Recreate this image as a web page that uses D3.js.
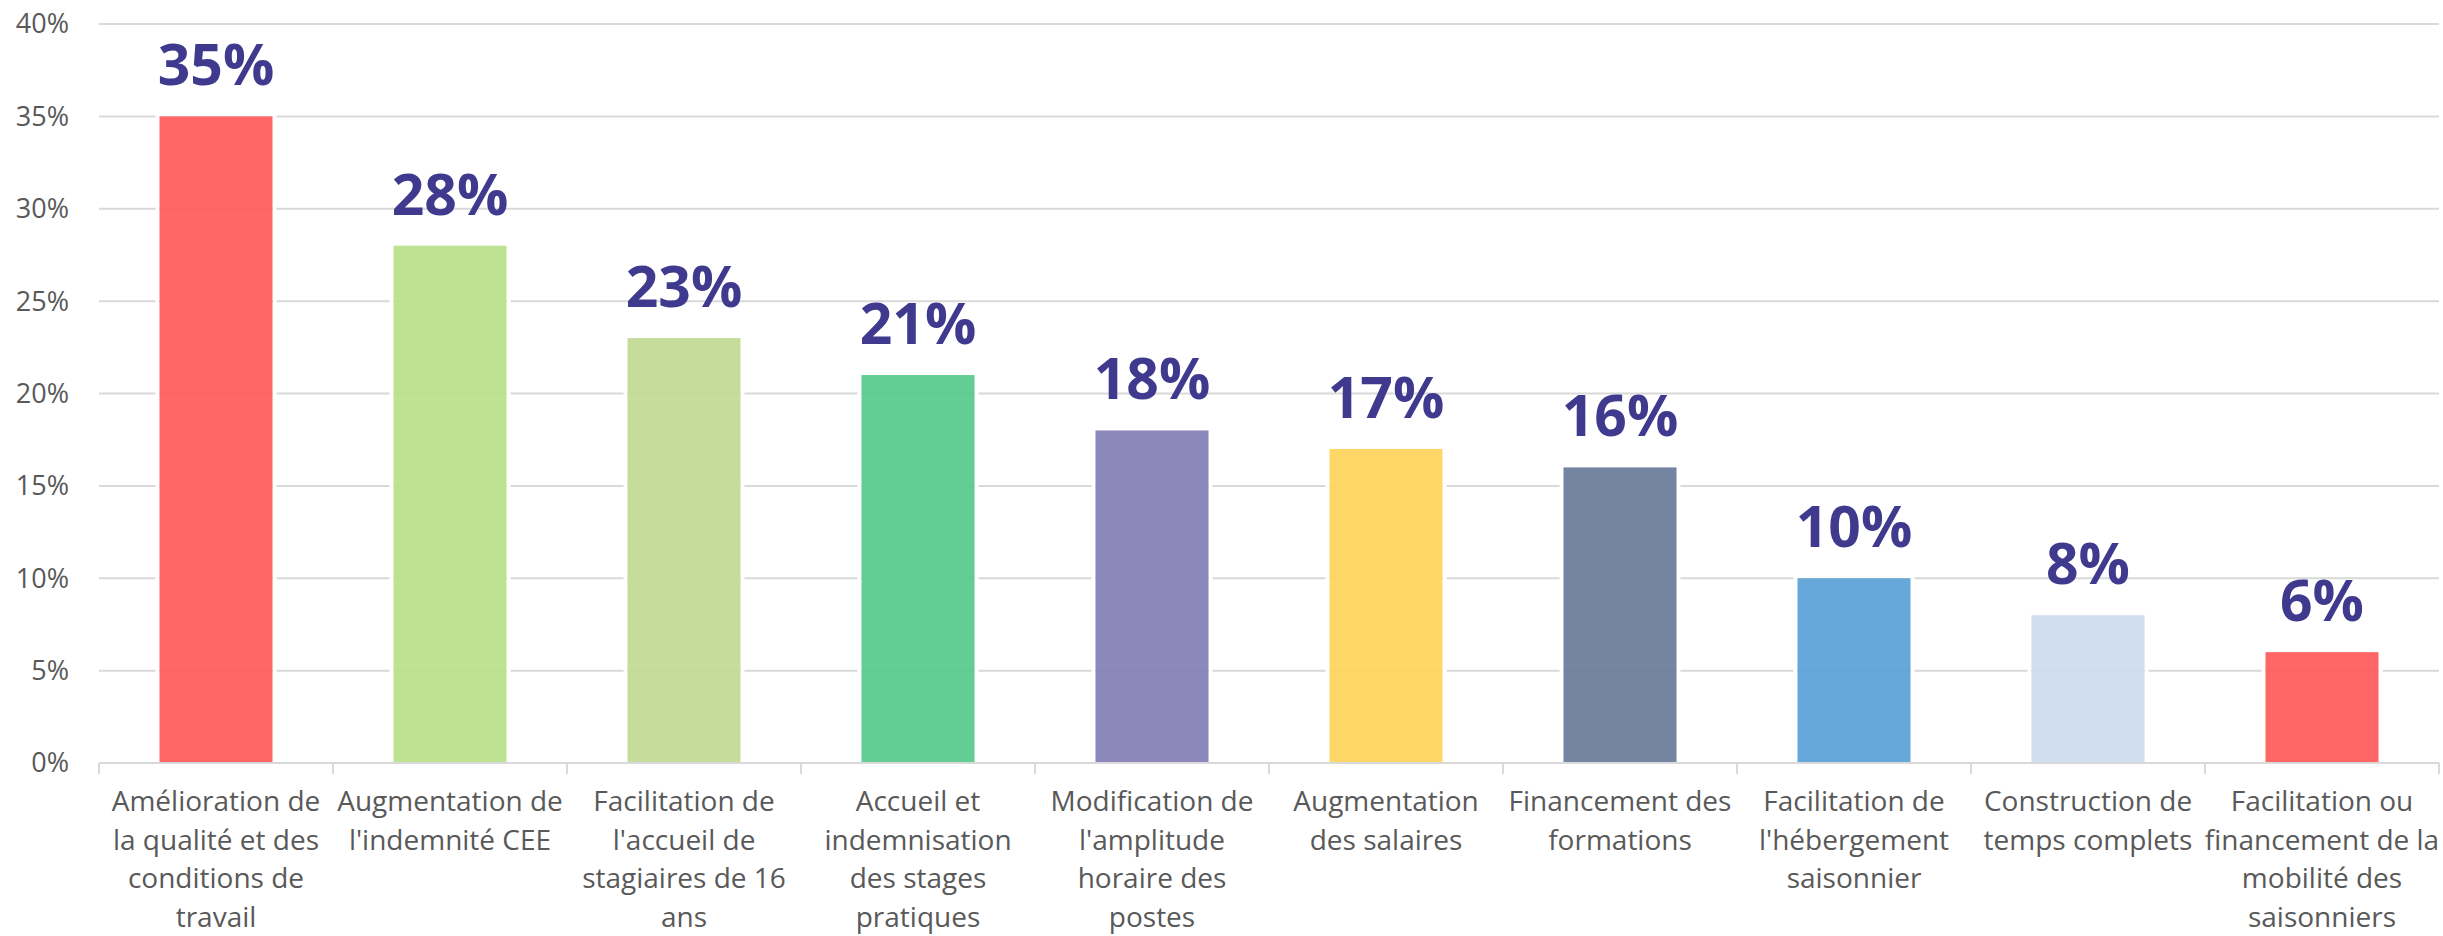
<!DOCTYPE html>
<html>
<head>
<meta charset="utf-8">
<script src="https://cdn.jsdelivr.net/npm/d3@7"></script>
<style>
  body { margin: 0; background: #fff; }
  text { font-family: "Open Sans", "Noto Sans", sans-serif; }
</style>
</head>
<body>
<div id="chart"></div>
<script>
// categories (wrapped the way they show under the axis)
var categories = [
    ["Amélioration de", "la qualité et des", "conditions de", "travail"],
    ["Augmentation de", "l'indemnité CEE"],
    ["Facilitation de", "l'accueil de", "stagiaires de 16", "ans"],
    ["Accueil et", "indemnisation", "des stages", "pratiques"],
    ["Modification de", "l'amplitude", "horaire des", "postes"],
    ["Augmentation", "des salaires"],
    ["Financement des", "formations"],
    ["Facilitation de", "l'hébergement", "saisonnier"],
    ["Construction de", "temps complets"],
    ["Facilitation ou", "financement de la", "mobilité des", "saisonniers"]
];
var valeurs = [35, 28, 23, 21, 18, 17, 16, 10, 8, 6];
var couleurs = ["#ff5a5a", "#b8e08a", "#c1d993", "#58c98b", "#837fb5", "#ffd45a", "#6b7c9a", "#5aa1d6", "#cddaf0", "#ff5a5a"];
var yTicks = [0, 5, 10, 15, 20, 25, 30, 35, 40];

var width = 2443, height = 936;
var margin = {top: 24, right: 4, bottom: 173, left: 99};
var w = width - margin.left - margin.right;
var h = height - margin.top - margin.bottom;

var svg = d3.select("#chart").append("svg")
    .attr("width", width).attr("height", height);
var g = svg.append("g").attr("transform", "translate(" + margin.left + "," + margin.top + ")");

var x = d3.scaleBand().domain(d3.range(categories.length)).range([0, w]).paddingInner(0.517).paddingOuter(0.2585);
var xEdges = d3.scaleBand().domain(d3.range(categories.length)).range([0, w]);
var y = d3.scaleLinear().domain([0, 40]).range([h, 0]);

// gridlines
g.selectAll(".grid").data(yTicks.slice(1)).enter().append("line")
    .attr("x1", 0).attr("x2", w)
    .attr("y1", function(d){ return y(d); }).attr("y2", function(d){ return y(d); })
    .attr("stroke", "#d9d9d9").attr("stroke-width", 2);

// y labels
g.selectAll(".ylab").data(yTicks).enter().append("text")
    .attr("x", -30).attr("y", function(d){ return y(d); })
    .attr("dy", "0.35em").attr("text-anchor", "end")
    .attr("font-size", 27).attr("fill", "#595959")
    .text(function(d){ return d + "%"; });

// halo blanc autour des barres
g.selectAll(".halo").data(valeurs).enter().append("rect")
    .attr("x", function(d, i){ return x(i) - 2; })
    .attr("y", function(d){ return y(d) - 2; })
    .attr("width", x.bandwidth() + 4)
    .attr("height", function(d){ return h - y(d) + 2; })
    .attr("fill", "none").attr("stroke", "#fff").attr("stroke-width", 4);

// bars
g.selectAll(".bar").data(valeurs).enter().append("rect")
    .attr("x", function(d, i){ return x(i); })
    .attr("y", function(d){ return y(d); })
    .attr("width", x.bandwidth())
    .attr("height", function(d){ return h - y(d); })
    .attr("fill", function(d, i){ return couleurs[i]; })
    .attr("fill-opacity", 0.93);

// value labels
g.selectAll(".val").data(valeurs).enter().append("text")
    .attr("x", function(d, i){ return x(i) + x.bandwidth() / 2; })
    .attr("y", function(d){ return y(d) - 31; })
    .attr("text-anchor", "middle")
    .attr("font-size", 57).attr("font-weight", "bold").attr("fill", "#403a8f")
    .text(function(d){ return d + "%"; });

// x axis line and ticks
g.append("line").attr("x1", 0).attr("x2", w).attr("y1", h).attr("y2", h)
    .attr("stroke", "#d9d9d9").attr("stroke-width", 2);
var bords = d3.range(categories.length).map(function(i){ return xEdges(i); }).concat([w]);
g.selectAll(".tick").data(bords).enter().append("line")
    .attr("x1", function(d){ return d; }).attr("x2", function(d){ return d; })
    .attr("y1", h).attr("y2", h + 11)
    .attr("stroke", "#d9d9d9").attr("stroke-width", 2);

// category labels
var lab = g.selectAll(".xlab").data(categories).enter().append("text")
    .attr("text-anchor", "middle").attr("font-size", 28).attr("fill", "#595959")
    .attr("transform", function(d, i){ return "translate(" + (xEdges(i) + xEdges.bandwidth() / 2) + "," + (h + 48) + ")"; });
lab.selectAll("tspan").data(function(d){ return d; }).enter().append("tspan")
    .attr("x", 0).attr("y", function(d, j){ return j * 38.5; })
    .text(function(d){ return d; });
</script>
</body>
</html>
